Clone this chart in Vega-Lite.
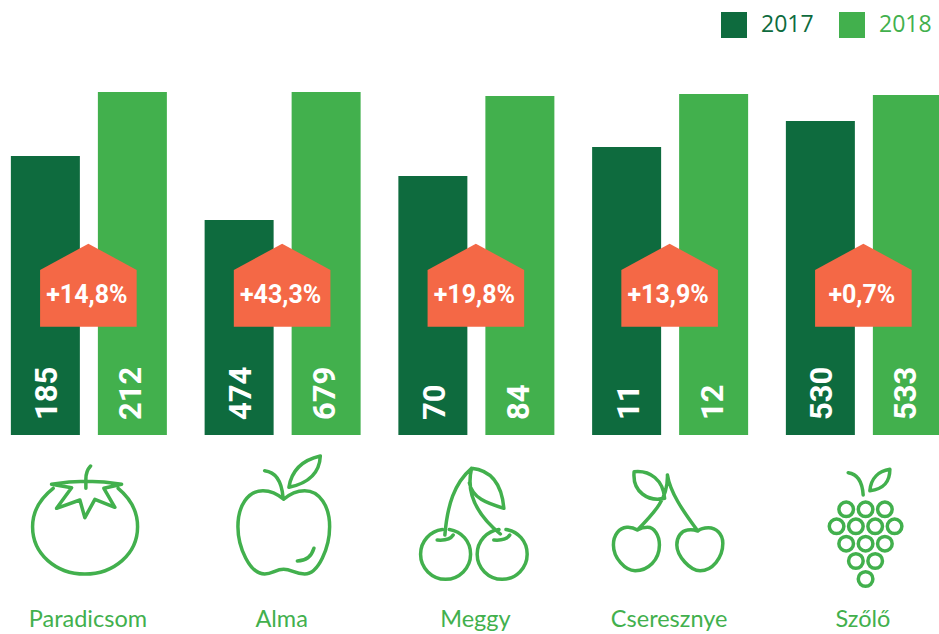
{
"$schema":"https://vega.github.io/schema/vega-lite/v6.json",
"width":939,"height":634,"padding":0,"autosize":{"type":"none"},
"background":"white",
"config":{"view":{"stroke":null}},
"datasets":{
"bars":[
{"fruit":"Paradicsom","year":"2017","value":185,"barHeight":279},
{"fruit":"Paradicsom","year":"2018","value":212,"barHeight":343},
{"fruit":"Alma","year":"2017","value":474,"barHeight":215},
{"fruit":"Alma","year":"2018","value":679,"barHeight":343},
{"fruit":"Meggy","year":"2017","value":70,"barHeight":259},
{"fruit":"Meggy","year":"2018","value":84,"barHeight":339},
{"fruit":"Cseresznye","year":"2017","value":11,"barHeight":288},
{"fruit":"Cseresznye","year":"2018","value":12,"barHeight":341},
{"fruit":"Szőlő","year":"2017","value":530,"barHeight":314},
{"fruit":"Szőlő","year":"2018","value":533,"barHeight":340}
],
"fruits":[
{"fruit":"Paradicsom","change":"+14,8%"},
{"fruit":"Alma","change":"+43,3%"},
{"fruit":"Meggy","change":"+19,8%"},
{"fruit":"Cseresznye","change":"+13,9%"},
{"fruit":"Szőlő","change":"+0,7%"}
]},
"encoding":{
"x":{"field":"fruit","type":"nominal","axis":null,"scale":{"domain":["Paradicsom","Alma","Meggy","Cseresznye","Szőlő"],"range":[-8,960.75],"paddingInner":0,"paddingOuter":0}}
},
"layer":[
{"data":{"name":"bars"},"mark":{"type":"bar","width":69,"cornerRadius":0},
"encoding":{
"xOffset":{"field":"year","type":"nominal","scale":{"domain":["2017","2018"],"paddingInner":0.207,"paddingOuter":0.217}},
"y":{"field":"barHeight","type":"quantitative","axis":null,"scale":{"domain":[-199,435],"range":[634,0],"nice":false,"zero":false}},
"y2":{"datum":0},
"color":{"field":"year","type":"nominal","scale":{"domain":["2017","2018"],"range":["#0e6b3e","#42b04d"]},
"legend":{"title":null,"orient":"none","legendX":721,"legendY":12,"direction":"horizontal","columns":2,"symbolType":"square","symbolSize":676,"symbolStrokeWidth":0,"symbolOpacity":1,"labelFont":"Open Sans","labelFontSize":23,"labelOffset":14,"columnPadding":25,"padding":0,"labelColor":"#0e6b3e",
"encode":{"labels":{"update":{"fill":{"signal":"datum.label=='2017'?'#0e6b3e':'#42b04d'"}}}}}}
}},
{"data":{"name":"bars"},"transform":[{"filter":"datum.year=='2017'"}],"mark":{"type":"text","angle":270,"align":"left","baseline":"middle","font":"Roboto","fontWeight":"bold","fontSize":31,"fill":"white","dy":3},
"encoding":{
"xOffset":{"field":"year","type":"nominal"},
"y":{"datum":15},
"text":{"field":"value","type":"nominal"}
}},
{"data":{"name":"bars"},"transform":[{"filter":"datum.year=='2018'"}],"mark":{"type":"text","angle":270,"align":"left","baseline":"middle","font":"Roboto","fontWeight":"bold","fontSize":31,"fill":"white"},
"encoding":{
"xOffset":{"field":"year","type":"nominal"},
"y":{"datum":15},
"text":{"field":"value","type":"nominal"}
}},
{"data":{"name":"fruits"},"mark":{"type":"point","filled":true,"opacity":1,"size":4,"fill":"#f46846","stroke":null,"shape":"M-48.8 41.7L-48.8 -15L-0.5 -41.3L47.8 -15L47.8 41.7Z"},
"encoding":{"y":{"datum":150}}},
{"data":{"name":"fruits"},"mark":{"type":"text","align":"center","baseline":"middle","font":"Roboto","fontWeight":"bold","fontSize":25,"fill":"white","dx":-2},
"encoding":{"y":{"datum":140},"text":{"field":"change","type":"nominal"}}},
{"data":{"name":"fruits"},"mark":{"type":"point","filled":false,"opacity":1,"size":4,"stroke":"#42b04d","strokeWidth":3.5,"strokeCap":"round","strokeJoin":"round"},
"encoding":{"y":{"datum":-95},
"shape":{"field":"fruit","type":"nominal","legend":null,"scale":{"domain":["Paradicsom","Alma","Meggy","Cseresznye","Szőlő"],"range":[
"M-35.7 -41.7C-48 -32 -56.3 -19 -56.3 -3.3C-56.3 24 -33 44 -4 44C25 44 48.7 24 48.7 -3.3C48.7 -19 41 -32 29.3 -41.7M-37.3 -45.7Q-2.3 -51.7 32.7 -45.7L15 -41.7L26 -22.7L6 -30.7L-4 -12.3L-9 -30L-32.3 -21.7L-17.3 -42.3L-37.3 -45.7M-3 -41.7L-3 -51Q-3 -59 1.7 -64",
"M1 -30.7C-5 -36 -12 -39.3 -19.7 -39.3C-35 -39.3 -44.7 -24 -44.7 -3.3C-44.7 17 -33 44 -18 44C-10 44 -7 39.3 1 39.3C9 39.3 12 44 22 44C36 44 47 17 47 -3.3C47 -24 37 -39.3 22 -39.3C14 -39.3 7 -36 1 -30.7ZM0.3 -33.3C-1 -48 -7 -58 -18 -59.3M6.3 -42.7C9 -60 20 -70 37.7 -74C37 -58 27 -47 6.3 -42.7ZM31.3 18.3C29 26 24 31 14.7 31",
"M-34 -0.5C-46 1 -55.8 11 -55.8 24.3C-55.8 38 -44.6 49.3 -30.8 49.3C-17 49.3 -5.8 38 -5.8 24.3C-5.8 11 -15 1.5 -27 -0.5M-39.2 10Q-27 11 -23.2 5M22.6 -0.5C10.6 1 0.8 11 0.8 24.3C0.8 38 12 49.3 25.8 49.3C39.6 49.3 50.8 38 50.8 24.3C50.8 11 41.6 1.5 29.6 -0.5M17.4 10Q29.6 11 33.4 5M-31.5 5C-29 -25 -22 -47 -4.8 -61.7M-4.8 -61.7C-10 -40 -3 -18 24 4M-4.8 -61.7C12 -60 25 -50 27.5 -21.7C10 -27 -4 -32 -7 -47",
"M-32.7 0C-36 -2 -40 -3 -43.3 -2.7C-51 -2 -56.7 5 -56.7 15C-56.7 28 -45 40.7 -35 40.7C-22 40.7 -10.7 30 -10.7 15C-10.7 5 -16 -2.7 -22.7 -2.7C-26 -2.7 -30 -1.5 -32.7 0ZM27.7 1C25 0 20 -0.5 17.3 0C11 1 6.7 7 6.7 15C6.7 26 20 40.7 30 40.7C42 40.7 52.7 28 52.7 13.3C52.7 4 46 -2.3 38.3 -2.3C34 -2.3 30 -1 27.7 1ZM-32.7 0C-15 -18 -2 -32 -2.7 -55M-2.7 -55C0 -38 12 -20 27.7 1M-36 -58.3C-20 -60 -7 -50 -5.5 -31.7C-22 -28 -38 -38 -36 -58.3Z",
"M-25 -20.7A7.3 7.3 0 1 0 -10.4 -20.7A7.3 7.3 0 1 0 -25 -20.7ZM-5.6 -20.7A7.3 7.3 0 1 0 9 -20.7A7.3 7.3 0 1 0 -5.6 -20.7ZM13.7 -20.7A7.3 7.3 0 1 0 28.3 -20.7A7.3 7.3 0 1 0 13.7 -20.7ZM-34.6 -3.7A7.3 7.3 0 1 0 -20 -3.7A7.3 7.3 0 1 0 -34.6 -3.7ZM-15.3 -3.7A7.3 7.3 0 1 0 -0.7 -3.7A7.3 7.3 0 1 0 -15.3 -3.7ZM4 -3.7A7.3 7.3 0 1 0 18.6 -3.7A7.3 7.3 0 1 0 4 -3.7ZM23.4 -3.7A7.3 7.3 0 1 0 38 -3.7A7.3 7.3 0 1 0 23.4 -3.7ZM-25 13.7A7.3 7.3 0 1 0 -10.4 13.7A7.3 7.3 0 1 0 -25 13.7ZM-5.6 13.7A7.3 7.3 0 1 0 9 13.7A7.3 7.3 0 1 0 -5.6 13.7ZM13.7 13.7A7.3 7.3 0 1 0 28.3 13.7A7.3 7.3 0 1 0 13.7 13.7ZM-15.3 31A7.3 7.3 0 1 0 -0.7 31A7.3 7.3 0 1 0 -15.3 31ZM4 31A7.3 7.3 0 1 0 18.6 31A7.3 7.3 0 1 0 4 31ZM-5.6 49A7.3 7.3 0 1 0 9 49A7.3 7.3 0 1 0 -5.6 49ZM-0.7 -35C-1.5 -48 -6 -56 -15.7 -57.3M6 -39.3C7 -52 15 -59 26 -60.7C26 -48 20 -41 6 -39.3Z"
]}}}},
{"data":{"name":"fruits"},"mark":{"type":"text","align":"center","baseline":"middle","font":"Lato","fontSize":23.5,"fill":"#42b04d","dx":-1},
"encoding":{"y":{"datum":-185},"text":{"field":"fruit","type":"nominal"}}}
]
}
